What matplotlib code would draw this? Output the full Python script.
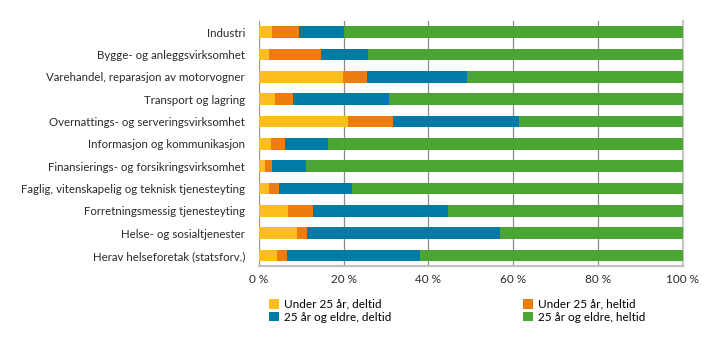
import matplotlib.pyplot as plt
import numpy as np

plt.rcParams['font.family'] = ['Lato', 'DejaVu Sans']

naeringer = [
    "Industri",
    "Bygge- og anleggsvirksomhet",
    "Varehandel, reparasjon av motorvogner",
    "Transport og lagring",
    "Overnattings- og serveringsvirksomhet",
    "Informasjon og kommunikasjon",
    "Finansierings- og forsikringsvirksomhet",
    "Faglig, vitenskapelig og teknisk tjenesteyting",
    "Forretningsmessig tjenesteyting",
    "Helse- og sosialtjenester",
    "Herav helseforetak (statsforv.)",
]

# andeler i prosent
under25_deltid = [3.1, 2.4, 19.8, 3.8, 21.1, 2.8, 1.5, 2.5, 6.8, 9.1, 4.4]
under25_heltid = [6.4, 12.2, 5.7, 4.3, 10.6, 3.3, 1.7, 2.3, 6.0, 2.3, 2.3]
over25_deltid = [10.6, 11.2, 23.6, 22.6, 29.7, 10.3, 8.0, 17.2, 31.9, 45.4, 31.3]
over25_heltid = [79.9, 74.2, 50.9, 69.3, 38.6, 83.6, 88.8, 78.0, 55.3, 43.2, 62.0]

serier = [
    ("Under 25 år, deltid", under25_deltid, "#fcbe1c"),
    ("Under 25 år, heltid", under25_heltid, "#ee7c0e"),
    ("25 år og eldre, deltid", over25_deltid, "#007ba6"),
    ("25 år og eldre, heltid", over25_heltid, "#4ca532"),
]

fig = plt.figure(figsize=(7.19, 3.41), dpi=100)
ax = fig.add_axes([0.36, 1 - 266 / 341, 0.5897, (266 - 21) / 341])

y = np.arange(len(naeringer))
venstre = np.zeros(len(naeringer))
handles = {}
for navn, verdier, farge in serier:
    b = ax.barh(y, verdier, left=venstre, height=0.51, color=farge,
                edgecolor="none", zorder=3, label=navn)
    handles[navn] = b
    venstre += np.array(verdier)

ax.set_xlim(0, 100)
ax.set_ylim(10.47, -0.5)
ax.set_yticks(y)
ax.set_yticklabels(naeringer, fontsize=8.3, color="#2a2a2a")
ax.set_xticks(range(0, 101, 20))
ax.set_xticklabels([f"{v} %" for v in range(0, 101, 20)], fontsize=8.5,
                   color="#2a2a2a")
ax.tick_params(axis="y", length=0, pad=10)
ax.tick_params(axis="x", length=0, pad=6)

ax.grid(axis="x", color="#8a8a8a", linewidth=0.9, zorder=0)
ax.spines["top"].set_visible(False)
ax.spines["right"].set_color("#c8c8c8")
ax.spines["right"].set_linewidth(1.6)
ax.spines["bottom"].set_color("#c0c0c0")
ax.spines["bottom"].set_linewidth(1.6)
ax.spines["left"].set_color("#9a9a9a")
ax.spines["left"].set_linewidth(0.6)

rekkefolge = ["Under 25 år, deltid", "25 år og eldre, deltid",
              "Under 25 år, heltid", "25 år og eldre, heltid"]
fig.legend([handles[n] for n in rekkefolge], rekkefolge,
           loc="upper left", bbox_to_anchor=(263 / 719, 1 - 293 / 341),
           ncol=2, frameon=False, fontsize=8.5, handlelength=0.85,
           handleheight=0.85, handletextpad=0.4, columnspacing=11.2,
           labelspacing=0.15, borderpad=0)

fig.savefig("out.png", dpi=100)
